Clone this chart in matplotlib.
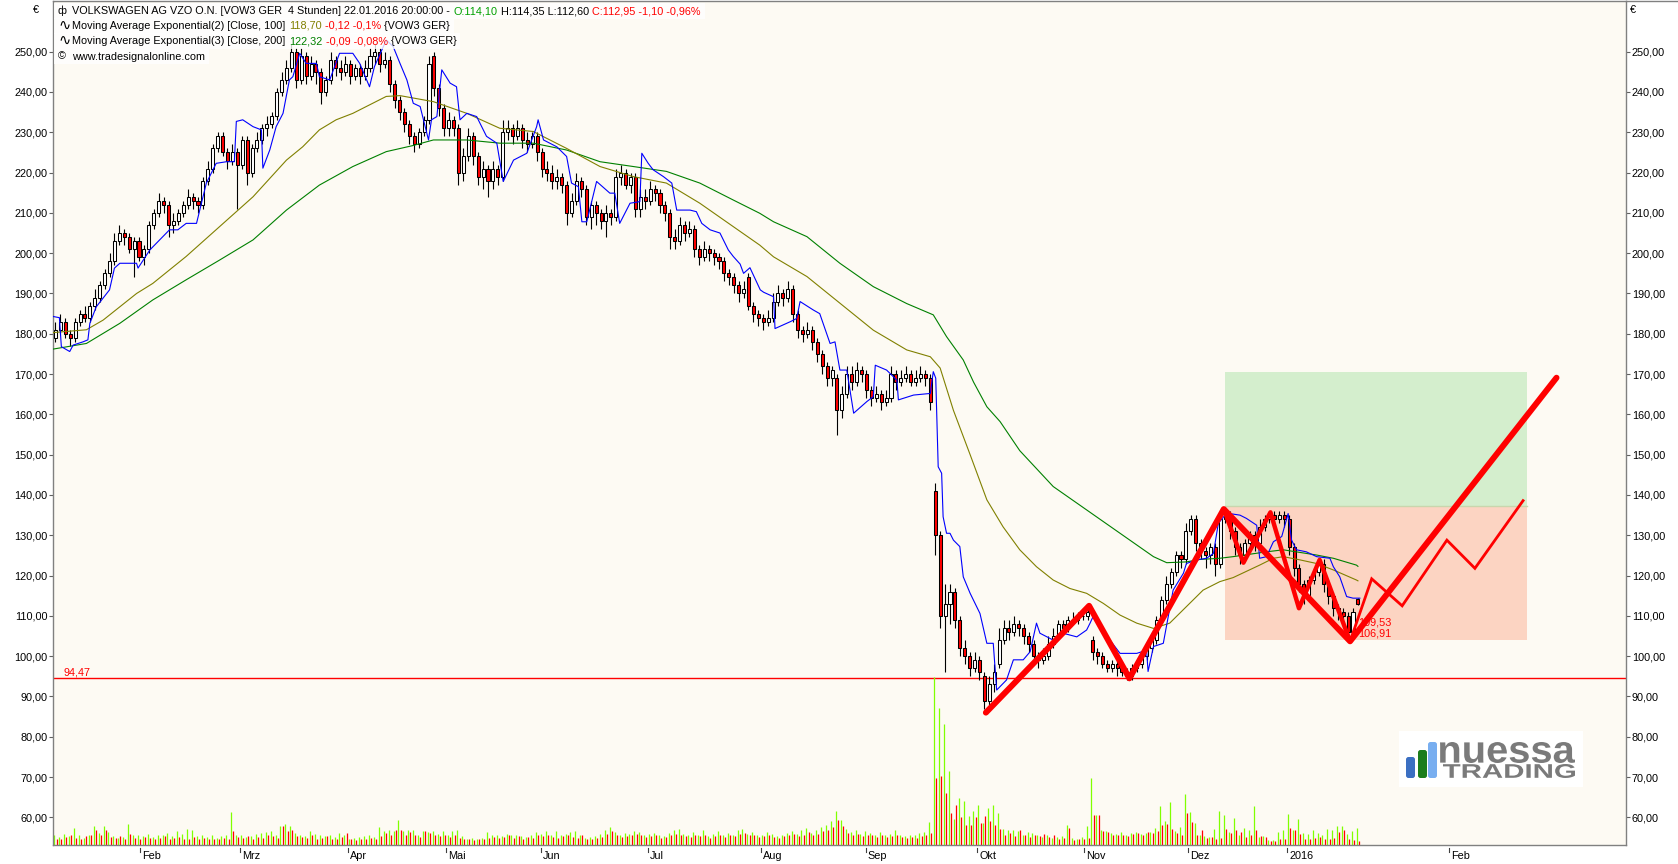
import matplotlib
matplotlib.use("Agg")
import matplotlib.pyplot as plt
import matplotlib.transforms as mtransforms
from matplotlib.patches import Rectangle, FancyBboxPatch, PathPatch
from matplotlib.textpath import TextPath
from matplotlib.font_manager import FontProperties
from matplotlib.lines import Line2D
import numpy as np

plt.rcParams['font.family'] = ['Liberation Sans', 'DejaVu Sans']

# VOW3 daily bars, index 0 = 08.01.2015 ... 265 = 22.01.2016
opens = [179, 181, 183, 180, 179, 183, 185, 184, 187, 189,
         192, 195, 198, 203, 205, 204, 201, 203, 199, 201,
         207, 210, 213, 212, 207, 208, 210, 212, 214, 213,
         212, 218, 221, 226, 229, 225, 223, 225, 222, 228,
         220, 226, 228, 231, 232, 234, 240, 243, 246, 250,
         243, 249, 244, 247, 245, 240, 243, 248, 246, 245,
         247, 244, 246, 244, 246, 249, 250, 247, 248, 242,
         238, 235, 232, 229, 227, 230, 233, 249, 241, 236,
         231, 233, 231, 220, 224, 229, 224, 219, 221, 218,
         221, 219, 230, 231, 229, 231, 228, 227, 229, 225,
         221, 220, 218, 219, 217, 210, 213, 218, 216, 209,
         212, 210, 208, 210, 209, 219, 220, 217, 219, 211,
         214, 213, 216, 215, 212, 210, 204, 203, 207, 205,
         206, 201, 199, 201, 200, 199, 198, 195, 194, 192,
         190, 194, 187, 185, 184, 183, 184, 188, 190, 189,
         191, 185, 181, 180, 181, 178, 175, 172, 169, 169,
         161, 165, 170, 168, 171, 170, 166, 164, 165, 163,
         164, 170, 168, 169, 170, 168, 169, 170, 169, 141,
         130, 110, 113, 116, 109, 102, 100, 97, 99, 95,
         89, 93, 98, 104, 107, 106, 108, 107, 105, 103,
         100, 99, 100, 103, 105, 108, 107, 109, 109, 110,
         110, 104, 101, 100, 98, 97, 98, 97, 96, 95,
         97, 98, 100, 102, 104, 109, 114, 118, 121, 125,
         124, 131, 134, 128, 126, 125, 127, 123, 134, 135,
         131, 127, 125, 128, 130, 128, 132, 134, 135, 134,
         135, 134, 127, 122, 118, 115, 119, 121, 123, 118,
         115, 112, 111, 110, 106, 114.1]
highs = [183, 185, 184, 181, 184, 186, 187, 188, 191, 193,
         196, 200, 205, 207, 206, 205, 204, 204, 202, 208,
         211, 215, 214, 213, 210, 211, 213, 216, 215, 214,
         219, 223, 227, 230, 230, 226, 227, 226, 229, 229,
         227, 230, 232, 234, 235, 241, 245, 248, 252, 251,
         251, 250, 249, 248, 246, 244, 250, 249, 248, 249,
         248, 247, 247, 248, 251, 252, 251, 250, 249, 243,
         239, 236, 233, 230, 231, 234, 249, 250, 242, 237,
         235, 234, 232, 226, 231, 230, 225, 223, 222, 223,
         222, 233, 233, 232, 233, 232, 230, 230, 230, 226,
         223, 222, 221, 220, 218, 215, 220, 219, 217, 213,
         213, 211, 212, 211, 221, 222, 221, 220, 220, 216,
         216, 218, 217, 216, 213, 211, 206, 209, 208, 208,
         207, 202, 203, 202, 201, 200, 199, 196, 195, 193,
         193, 195, 188, 186, 185, 186, 190, 192, 191, 193,
         192, 186, 182, 183, 182, 179, 176, 173, 172, 170,
         167, 172, 172, 173, 172, 171, 167, 167, 166, 166,
         172, 171, 171, 172, 171, 171, 172, 171, 170, 143,
         131, 118, 118, 117, 110, 104, 101, 101, 100, 96,
         95, 98, 107, 109, 109, 110, 109, 108, 106, 104,
         101, 102, 105, 107, 109, 109, 110, 111, 111, 112,
         112, 105, 102, 101, 99, 99, 99, 98, 97, 98,
         99, 101, 103, 105, 110, 115, 120, 122, 126, 126,
         133, 135, 135, 129, 127, 128, 128, 136, 137, 136,
         132, 128, 129, 131, 131, 134, 135, 136, 136, 136,
         136, 135, 128, 123, 119, 120, 122, 124, 124, 119,
         116, 113, 112, 111, 112, 114.35]
lows = [178, 180, 179, 177, 178, 182, 183, 183, 186, 188,
        191, 194, 197, 202, 202, 200, 194, 198, 197, 200,
        206, 209, 210, 204, 205, 207, 209, 211, 211, 210,
        211, 217, 220, 225, 224, 221, 222, 211, 221, 217,
        219, 225, 227, 229, 231, 233, 239, 242, 245, 241,
        242, 242, 243, 242, 237, 239, 242, 244, 243, 244,
        242, 243, 242, 243, 245, 247, 245, 246, 240, 236,
        233, 230, 227, 225, 226, 229, 232, 239, 234, 229,
        229, 229, 217, 218, 223, 222, 217, 216, 214, 216,
        217, 218, 228, 227, 228, 226, 225, 226, 223, 219,
        218, 216, 216, 215, 207, 209, 212, 214, 207, 206,
        207, 206, 204, 207, 208, 217, 216, 215, 209, 209,
        211, 212, 213, 210, 208, 201, 201, 202, 203, 204,
        199, 197, 198, 198, 197, 196, 193, 192, 190, 188,
        189, 186, 183, 182, 181, 182, 183, 187, 187, 188,
        183, 179, 178, 179, 176, 173, 170, 167, 167, 155,
        159, 164, 166, 167, 168, 164, 162, 163, 161, 162,
        163, 166, 167, 168, 167, 167, 168, 167, 161, 125,
        107, 96, 108, 107, 100, 98, 95, 96, 94, 87,
        88, 91, 97, 103, 104, 105, 105, 103, 101, 98,
        97, 98, 99, 102, 104, 106, 106, 108, 108, 109,
        109, 99, 98, 97, 96, 96, 95, 95, 94, 94,
        96, 97, 99, 101, 103, 108, 113, 117, 120, 122,
        123, 130, 126, 124, 122, 123, 120, 122, 133, 129,
        125, 123, 124, 127, 126, 127, 131, 133, 133, 133,
        132, 125, 120, 116, 113, 114, 118, 120, 116, 113,
        110, 109, 108, 104.5, 105, 112.6]
closes = [181, 183, 180, 179, 183, 185, 184, 187, 189, 192,
          195, 198, 203, 205, 204, 201, 203, 199, 201, 207,
          210, 213, 212, 207, 208, 210, 212, 214, 213, 212,
          218, 221, 226, 229, 225, 223, 225, 222, 228, 220,
          226, 228, 231, 232, 234, 240, 243, 246, 250, 243,
          249, 244, 247, 245, 240, 243, 248, 246, 245, 247,
          244, 246, 244, 246, 249, 250, 247, 248, 242, 238,
          235, 232, 229, 227, 230, 233, 247, 241, 236, 231,
          233, 231, 220, 224, 229, 224, 219, 221, 218, 221,
          219, 230, 231, 229, 231, 228, 227, 229, 225, 221,
          220, 218, 219, 217, 210, 213, 218, 216, 209, 212,
          210, 208, 210, 209, 219, 220, 217, 219, 211, 214,
          213, 216, 215, 212, 210, 204, 203, 207, 205, 206,
          201, 199, 201, 200, 199, 198, 195, 194, 192, 190,
          191, 187, 185, 184, 183, 184, 188, 190, 189, 191,
          185, 181, 180, 181, 178, 175, 172, 169, 171, 161,
          165, 170, 168, 171, 170, 166, 164, 165, 163, 164,
          170, 168, 169, 170, 168, 169, 170, 169, 163, 130,
          110, 113, 116, 109, 102, 100, 97, 99, 96, 89,
          93, 96, 104, 107, 106, 108, 107, 105, 103, 100,
          99, 100, 103, 105, 108, 107, 109, 109, 110, 110,
          111, 101, 100, 98, 97, 98, 97, 96, 95, 97,
          98, 100, 102, 104, 109, 114, 118, 121, 125, 124,
          131, 134, 128, 126, 125, 127, 123, 134, 135, 131,
          127, 125, 128, 130, 128, 132, 134, 135, 134, 135,
          134, 127, 122, 118, 115, 119, 121, 123, 118, 115,
          112, 111, 110, 106, 111, 112.95]

# volume split in up / down part (drawn on the price scale)
vol_up = [2.6, 2.0, 2.8, 2.2, 4.2, 2.5, 1.8, 2.4, 4.8, 3.0,
          4.8, 3.2, 2.2, 1.8, 2.0, 5.2, 2.4, 2.6, 2.2, 2.8,
          2.0, 2.6, 2.4, 3.0, 2.2, 3.4, 2.8, 4.0, 3.6, 2.2,
          2.4, 2.0, 2.6, 1.8, 2.2, 2.5, 8.2, 2.4, 2.6, 2.0,
          2.2, 2.8, 3.0, 3.3, 3.4, 2.4, 4.8, 5.2, 4.6, 3.0,
          2.6, 2.2, 3.4, 2.8, 2.4, 2.2, 2.4, 2.0, 3.0, 2.6,
          1.6, 1.8, 2.0, 2.2, 2.4, 2.0, 4.4, 3.4, 3.6, 3.5,
          6.1, 3.4, 3.6, 3.8, 2.6, 3.5, 3.2, 3.4, 2.8, 3.5,
          2.6, 3.4, 3.8, 2.2, 1.6, 1.8, 1.6, 1.8, 3.2, 2.4,
          2.6, 2.2, 2.8, 2.4, 2.6, 2.2, 2.0, 2.6, 3.2, 2.8,
          3.4, 2.6, 3.5, 2.4, 2.8, 3.2, 3.5, 2.4, 1.8, 2.0,
          2.2, 2.8, 3.8, 4.4, 3.2, 2.6, 3.0, 2.8, 3.5, 3.2,
          2.4, 2.8, 3.0, 2.6, 2.2, 3.0, 3.6, 4.0, 2.8, 2.4,
          3.2, 2.6, 3.8, 2.2, 2.8, 3.4, 2.6, 3.0, 2.4, 3.6,
          4.0, 2.8, 3.2, 2.6, 2.4, 3.2, 2.8, 2.2, 2.6, 3.0,
          3.4, 2.8, 3.6, 4.2, 3.0, 3.8, 4.4, 5.0, 6.0, 8.5,
          6.2, 4.0, 3.2, 3.6, 2.8, 3.4, 3.0, 2.6, 3.2, 2.4,
          2.8, 3.6, 2.4, 2.2, 2.6, 2.4, 3.0, 3.2, 5.7, 41.6,
          34.0, 30.0, 18.4, 6.5, 11.7, 11.0, 7.3, 8.4, 10.0, 5.5,
          9.3, 10.0, 8.0, 4.0, 3.6, 3.8, 3.5, 2.6, 3.2, 3.0,
          2.4, 2.0, 2.6, 1.8, 2.0, 2.2, 5.0, 1.8, 1.6, 2.0,
          4.8, 16.7, 7.4, 3.6, 3.5, 3.0, 2.8, 3.2, 2.6, 3.0,
          3.2, 2.8, 3.0, 3.2, 4.3, 9.8, 6.0, 10.7, 3.5, 4.5,
          12.7, 8.1, 5.5, 2.6, 2.3, 2.0, 3.9, 8.4, 7.4, 3.3,
          6.8, 2.5, 4.1, 3.7, 9.7, 2.1, 2.2, 1.2, 1.2, 3.3,
          3.6, 7.7, 3.7, 6.5, 3.1, 2.7, 3.7, 3.1, 2.5, 3.9,
          3.7, 4.6, 4.6, 2.7, 3.5, 4.3]
vol_dn = [1.6, 1.5, 2.0, 2.6, 1.8, 1.4, 2.2, 2.6, 3.7, 2.4,
          3.7, 2.0, 1.8, 2.2, 1.6, 2.8, 1.8, 1.6, 2.0, 1.8,
          1.4, 1.8, 2.2, 1.6, 1.8, 2.0, 1.6, 1.4, 2.0, 1.6,
          1.8, 1.5, 1.6, 1.4, 1.8, 1.6, 3.5, 2.0, 1.8, 2.2,
          1.6, 2.0, 1.8, 2.4, 2.2, 1.8, 4.8, 3.4, 3.6, 2.2,
          2.0, 1.8, 2.6, 1.6, 1.8, 2.2, 1.4, 1.6, 2.0, 2.9,
          1.4, 1.2, 1.6, 1.4, 1.8, 1.6, 2.2, 3.0, 2.4, 3.7,
          3.7, 2.6, 3.2, 2.4, 2.0, 3.5, 3.0, 2.6, 2.2, 2.6,
          2.0, 2.4, 1.8, 1.6, 1.4, 1.2, 1.4, 1.6, 1.8, 2.0,
          1.8, 2.0, 2.4, 1.8, 2.2, 1.6, 2.0, 1.8, 2.6, 2.2,
          2.4, 2.0, 1.8, 2.2, 2.6, 2.0, 1.8, 2.4, 1.6, 1.4,
          1.8, 2.0, 2.8, 3.5, 2.4, 2.0, 2.2, 2.6, 2.8, 2.4,
          2.0, 2.2, 2.4, 1.8, 2.0, 2.6, 2.8, 2.4, 2.2, 2.0,
          2.4, 2.2, 2.6, 1.8, 2.2, 2.6, 2.0, 2.4, 2.2, 2.8,
          3.0, 2.6, 2.4, 2.0, 2.2, 2.4, 2.0, 1.8, 2.2, 2.4,
          2.8, 2.2, 2.6, 3.2, 2.4, 2.8, 3.4, 3.8, 4.4, 6.2,
          4.6, 3.0, 2.4, 2.8, 2.2, 2.6, 2.4, 2.0, 2.4, 2.0,
          2.2, 2.6, 2.0, 1.8, 2.0, 1.8, 2.2, 2.4, 3.0, 16.7,
          17.0, 13.0, 8.0, 10.0, 7.0, 5.0, 5.0, 7.0, 5.5, 7.3,
          6.0, 5.0, 4.0, 2.5, 3.0, 2.2, 3.6, 2.4, 2.0, 2.6,
          2.2, 2.8, 2.0, 2.4, 1.5, 1.8, 4.1, 1.2, 1.4, 1.6,
          1.8, 7.4, 7.4, 3.4, 3.2, 2.6, 2.4, 2.6, 2.2, 2.8,
          3.0, 2.6, 3.2, 3.0, 3.4, 5.0, 5.1, 4.0, 3.0, 2.6,
          7.9, 5.6, 2.4, 3.6, 1.8, 2.1, 1.6, 1.8, 4.0, 2.9,
          3.7, 3.3, 2.0, 2.4, 3.6, 2.3, 1.9, 1.1, 1.0, 1.4,
          1.6, 4.3, 3.6, 2.7, 1.6, 1.4, 1.8, 2.0, 1.5, 1.6,
          1.8, 3.3, 3.7, 1.4, 1.2, 1.0]

# moving averages: (bar index, value)
ema100_x = [-0.5, 6.3, 9.7, 16.5, 19.8, 26.6, 33.4, 40.2, 47, 50.3, 53.7, 57.1, 60.5,
            63.9, 67.3, 70.1, 76.9, 83.7, 90.4, 97.2, 104, 110.8, 117.6, 124.3, 131.1,
            137.9, 143.3, 146.1, 152.9, 159.6, 166.4, 173.2, 178, 180, 182.7, 186.1,
            189.5, 192.8, 196.2, 199.6, 203, 206.4, 209.8, 213.2, 216.6, 220, 223.4,
            226.7, 230.1, 233.5, 236.9, 239.6, 245, 247.8, 249.8, 253.2, 256.6, 260,
            264.7, 265]
ema100_y = [180.3, 181, 183.4, 190, 192.5, 199.2, 206.6, 214, 223.1, 226.4, 230.6, 233.1,
            234.7, 236.8, 238.9, 239.1, 237.6, 234.7, 231, 230.2, 226, 221.5, 219, 217.4,
            212.4, 206.6, 202, 199.1, 194.2, 187.6, 180.9, 176, 174.3, 171.5, 161, 150,
            138.8, 132.1, 126.4, 122.2, 118.9, 116.8, 115.6, 113.1, 110.2, 108.2, 106.9,
            108.2, 112.3, 116.4, 118.5, 119.5, 122.6, 124.3, 124.7, 123.9, 123, 121.4,
            118.9, 118.7]
ema200_x = [-0.5, 6.3, 13.1, 19.8, 26.6, 33.4, 40.2, 47, 53.7, 60.5, 67.3, 72.7, 76.9,
            83.7, 90.4, 97.2, 104, 110.8, 117.6, 124.3, 131.1, 137.9, 143.3, 146.1,
            152.9, 159.6, 166.4, 173.2, 178.6, 181.3, 184.7, 186.8, 189.5, 192.2, 196.2,
            203, 209.8, 216.6, 223.4, 226.1, 230.1, 232.8, 236.9, 239.6, 246.4, 249.8,
            256.6, 260, 264.7, 265]
ema200_y = [176.2, 177.6, 182.6, 188.4, 193.4, 198.3, 203.3, 210.7, 216.9, 221.5, 225.2,
            226.7, 228.1, 228.1, 227.3, 227.3, 225.6, 222.7, 221.5, 220.3, 217.4, 213.2,
            209.9, 207.8, 204.1, 197.5, 191.7, 187.5, 184.7, 179.3, 173.5, 168, 161.9,
            158.2, 151, 142.1, 136.3, 130.5, 124.7, 123.2, 123.4, 124, 124.3, 124.7, 125.9,
            126.4, 125.1, 124.3, 122.6, 122.3]
fast_x = [-0.5, 0.8, 1.2, 2.9, 3.6, 5.6, 6.6, 7, 8.3, 11, 12, 13.1, 16.5, 16.8, 19.2,
          21.2, 23.2, 24.9, 26.6, 28.7, 30.7, 32.7, 34.8, 36.4, 36.8, 38.1, 40.2, 41.9,
          42.2, 43.6, 44.9, 46.3, 47.6, 48.3, 49.7, 51, 53.1, 53.7, 55.8, 57.8, 60.5,
          61.9, 63.9, 64.9, 67.3, 68.7, 70.1, 71.5, 72.8, 74.2, 75.9, 76.5, 77.6, 78.6,
          80.3, 81.6, 82.3, 83.7, 85.7, 87.7, 89.8, 91.1, 93.2, 95.9, 97.9, 98.2, 99.3,
          102, 104, 105, 106.4, 107.1, 108.1, 110.1, 112.8, 113.8, 114.8, 116.9, 118.9,
          119.3, 120.6, 121.6, 123.7, 125.4, 126.4, 129.1, 130.4, 131.5, 133.2, 135.2,
          136.9, 137.9, 139.3, 140, 141.3, 143.4, 144.1, 146.1, 146.4, 149.5, 150.8,
          151.5, 154.2, 155.5, 157.6, 158.6, 159.6, 161, 162.4, 165.1, 166.4, 166.8,
          169.1, 171.2, 171.5, 174.6, 178, 178.6, 179.1, 179.6, 180.3, 180.6, 181.3,
          182, 182.7, 184, 184.7, 186.1, 188.1, 189.5, 190.8, 191.5, 193.5, 194.9,
          196.9, 198.3, 199.6, 200.3, 203, 205, 207.8, 209.8, 210.5, 211.1, 212.5,
          216.6, 220, 222, 222.3, 223.4, 225.4, 227.4, 229.5, 230.1, 232.2, 234.2,
          235.6, 236.6, 238.3, 241, 242.3, 244.4, 245, 246.4, 247.8, 249.5, 250.8,
          251.5, 252.5, 254.5, 256.6, 259.3, 260, 261.3, 262.7, 264, 265.4]
fast_y = [184.3, 184, 176.8, 175.6, 177.2, 178, 178.5, 182.6, 186.7, 190.9, 196.3, 197.5,
          197.5, 196.3, 200.8, 203.3, 205.8, 205.8, 207.4, 207.4, 217.4, 222.3, 222.7,
          222.7, 232.7, 233.1, 231.4, 230.6, 221.1, 225.6, 231.4, 234.7, 243, 243.8,
          249.6, 247.1, 247.1, 243.8, 243, 249.6, 249.6, 247.1, 241.3, 246.3, 252.9,
          251.3, 247.1, 243, 237.2, 236.4, 228.1, 233.1, 233.9, 245.5, 242.2, 241.3,
          233.1, 234.7, 233.9, 229, 227.3, 217.8, 223.1, 224.8, 231.4, 233.1, 228.1,
          226.4, 224, 217.4, 216.5, 207.8, 207.8, 217.8, 214.9, 214.9, 207.4, 212.4,
          212.8, 224.8, 222.3, 220.7, 219, 217.4, 210.7, 210.7, 210.3, 207.4, 205.8,
          205, 200.8, 199.2, 197.3, 195, 196.4, 190.9, 190.3, 189.2, 181.3, 183, 183.8,
          188, 185.9, 185, 177.6, 178, 171, 171, 160.3, 163.2, 164.4, 172.2, 171, 168.5,
          163.6, 164.8, 165.2, 170.6, 169, 147, 145.4, 134.6, 130.5, 130.5, 128.8,
          127.2, 119.7, 115.6, 110.6, 103.2, 103.2, 91.6, 94.1, 99.1, 99.1, 101.1,
          108.2, 105.7, 104, 105.7, 104.8, 106.5, 108.2, 109.8, 107.3, 100.7, 100.7,
          101.5, 96.2, 102.4, 103.2, 116.4, 120.6, 123, 123.9, 124.3, 125.5, 133,
          135.5, 135, 134.2, 132.5, 124.3, 124.7, 128.4, 129.7, 135.4, 128.8, 126.4,
          125.9, 124.7, 124.3, 122.2, 119.7, 114.8, 114.4, 114.4]

month_pos = [17.3, 37.5, 59.6, 79.5, 98.8, 120.6, 143.5, 164.9, 187.5, 209.3, 230.4, 250.6, 283.5]
month_lbl = ['Feb', 'Mrz', 'Apr', 'Mai', 'Jun', 'Jul', 'Aug', 'Sep', 'Okt', 'Nov', 'Dez', '2016', 'Feb']

support = 94.47
box_x = [237.9, 299.3]
target, entry, stop = 170.4, 137.3, 104.0
# drawn wave count
wave_x = [189.3, 210.3, 218.5, 237.7, 263.4, 305.4]
wave_y = [86.0, 112.5, 94.5, 136.5, 103.7, 169.1]
sub_x = [237.7, 241.7, 247.2, 253.0, 257.2, 263.4]
sub_y = [136.5, 123.2, 135.7, 111.9, 123.9, 103.7]
proj_x = [263.4, 267.8, 274.0, 283.1, 288.8, 298.6]
proj_y = [103.7, 119.2, 112.5, 128.8, 121.8, 138.6]
levels = [109.53, 106.91]

W, H = 1678, 864
FS = 7.8
fig = plt.figure(figsize=(W / 100, H / 100), dpi=100)
fig.patch.set_facecolor('white')
ax = fig.add_axes([53 / W, 1 - 845 / H, (1626 - 53) / W, 844 / H])
ax.set_facecolor('#fdfaf3')
ax.set_xlim(-0.5, 319.54)
ybot = 53.15
ax.set_ylim(ybot, 262.58)

x = np.arange(len(closes))
o = np.array(opens, float)
c = np.array(closes, float)
hi = np.array(highs, float)
lo = np.array(lows, float)

# target / stop box
ax.add_patch(Rectangle((box_x[0], entry), box_x[1] - box_x[0], target - entry,
                       fc='#d4eecd', ec='none', zorder=1))
ax.add_patch(Rectangle((box_x[0], stop), box_x[1] - box_x[0], entry - stop,
                       fc='#fcd4c2', ec='none', zorder=1))
ax.plot(box_x, [entry, entry], color='#c9d6ad', lw=1, zorder=1.1)

ax.axhline(support, color='#ff0000', lw=1.0, zorder=2)
ax.annotate('94,47', xy=(0, support), xycoords=('axes fraction', 'data'),
            xytext=(11, 1), textcoords='offset pixels', color='#ff0000',
            fontsize=FS, ha='left', va='bottom', zorder=6)

# volume
vu = np.array(vol_up)
vd = np.array(vol_dn)
ax.vlines(x - 0.22, ybot, ybot + vu, colors='#80ff00', lw=0.9, zorder=2)
ax.vlines(x + 0.22, ybot, ybot + vd, colors='#ff0000', lw=0.9, zorder=2)

# candles
ax.vlines(x, lo, hi, colors='black', lw=0.8, zorder=3)
up = c >= o
face = np.where(up, 'white', '#ff0000')
ax.bar(x, c - o, bottom=o, width=0.62, color=face, edgecolor='black',
       linewidth=0.75, zorder=3.1)

ax.plot(ema200_x, ema200_y, color='#008000', lw=0.8, zorder=4)
ax.plot(ema100_x, ema100_y, color='#808000', lw=0.8, zorder=4)
ax.plot(fast_x, fast_y, color='#0000ff', lw=0.8, zorder=4)

ax.plot(proj_x, proj_y, color='#ff0000', lw=2.0, zorder=5, solid_joinstyle='miter')
ax.plot(sub_x, sub_y, color='#ff0000', lw=3.2, zorder=5, solid_capstyle='round')
ax.plot(wave_x, wave_y, color='#ff0000', lw=4.3, zorder=5, solid_capstyle='round')

for lv in levels:
    ax.text(x[-1], lv, f'{lv:.2f}'.replace('.', ','), color='#ff0000', fontsize=FS,
            ha='left', va='top', zorder=4.5)

# axes styling
yt = np.arange(60, 251, 10)
ax.set_yticks(yt)
ax.set_yticklabels([f'{v:.2f}'.replace('.', ',') for v in yt])
ax.tick_params(axis='y', left=True, right=True, labelleft=True, labelright=True,
               length=3, width=0.8, color='#606060', pad=1.2, labelsize=FS)
ax.set_xticks([])
for s in ax.spines.values():
    s.set_color('#808080')
    s.set_linewidth(1.0)

xt = ax.get_xaxis_transform()
for p, lb in zip(month_pos, month_lbl):
    ax.plot([p, p], [-2.5 / 844, -7 / 844], transform=xt, color='#404040', lw=0.8,
            clip_on=False)
    ax.annotate(lb, xy=(p, 0), xycoords=xt, xytext=(2, -6),
                textcoords='offset pixels', fontsize=FS, ha='left', va='top',
                annotation_clip=False)

fig.text(33 / W, 1 - 10 / H, '€', fontsize=FS, ha='left', va='center')
fig.text(1630 / W, 1 - 10 / H, '€', fontsize=FS, ha='left', va='center')
fig.add_artist(Line2D([1626 / W, 1], [1 - 0.5 / H, 1 - 0.5 / H], color='#808080', lw=1))

# header lines
rend = fig.canvas.get_renderer()
header = [
    (11, 'ф', [('VOLKSWAGEN AG VZO O.N. [VOW3 GER  4 Stunden] 22.01.2016 20:00:00 -', 'black'),
               ('O:114,10', '#00a000'), ('H:114,35 L:112,60', 'black'),
               ('C:112,95 -1,10 -0,96%', '#ff0000')]),
    (26, '∿', [('Moving Average Exponential(2) [Close, 100]', 'black'), ('118,70', '#808000'),
               ('-0,12 -0,1%', '#ff0000'), ('{VOW3 GER}', 'black')]),
    (41, '∿', [('Moving Average Exponential(3) [Close, 200]', 'black'), ('122,32', '#008000'),
               ('-0,09 -0,08%', '#ff0000'), ('{VOW3 GER}', 'black')]),
    (56.5, '©', [('www.tradesignalonline.com', 'black')]),
]
for yy, icon, parts in header:
    isz = 10.5 if icon == '∿' else FS
    fig.text(58 / W, 1 - yy / H, icon, fontsize=isz, ha='left', va='center', zorder=11)
    xx = 72
    for s, col in parts:
        t = fig.text(xx / W, 1 - yy / H, s, color=col, fontsize=FS, ha='left',
                     va='center', zorder=11)
        xx += t.get_window_extent(rend).width + 3.5
    fig.add_artist(Rectangle((54 / W, 1 - (yy + 7.5) / H), (xx - 54) / W, 15 / H,
                             transform=fig.transFigure, fc='white', ec='none',
                             alpha=0.8, zorder=10))

# logo
lax = fig.add_axes([1399 / W, 1 - 787 / H, 184 / W, 56 / H])
lax.set_xlim(0, 184)
lax.set_ylim(0, 56)
lax.axis('off')
lax.add_patch(Rectangle((0, 0), 184, 56, fc='white', ec='none'))
for bx, bh, col in [(7, 21, '#3b6fc2'), (19, 28, '#1b7d1b'), (29, 36, '#78aef0')]:
    lax.add_patch(FancyBboxPatch((bx, 9), 9, bh, boxstyle='round,pad=0,rounding_size=2.5',
                                 fc=col, ec='none'))


def fit_text(axl, s, x0, y0, x1, y1, col, fp):
    tp = TextPath((0, 0), s, prop=fp, size=1)
    bb = tp.get_extents()
    tr = (mtransforms.Affine2D().translate(-bb.x0, -bb.y0)
          .scale((x1 - x0) / bb.width, (y1 - y0) / bb.height).translate(x0, y0))
    axl.add_patch(PathPatch(tr.transform_path(tp), fc=col, ec='none'))


fpb = FontProperties(family='Liberation Sans', weight='bold')
fit_text(lax, 'nuessa', 41, 24, 176, 45, '#7a7a7a', fpb)
fit_text(lax, 'TRADING', 44, 9, 176, 23, '#7a7a7a', fpb)

fig.savefig('out.png', dpi=100, facecolor='white')
